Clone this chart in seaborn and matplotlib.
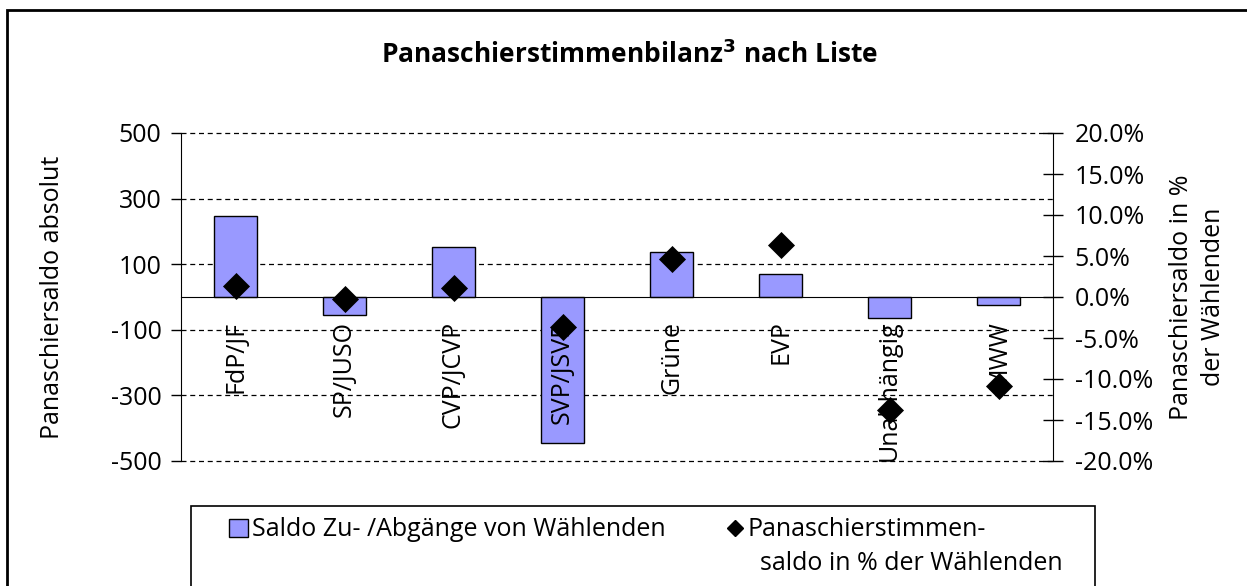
import matplotlib
matplotlib.use("Agg")
import matplotlib.pyplot as plt
import matplotlib.ticker as mticker
from matplotlib.patches import Rectangle
from matplotlib.lines import Line2D
import seaborn as sns

parties = ["FdP/JF", "SP/JUSO", "CVP/JCVP", "SVP/JSVP", "Grüne", "EVP", "Unabhängig", "MWW"]
saldo_abs = [248, -56, 151, -445, 136, 70, -64, -24]
saldo_pct = [1.3, -0.3, 1.05, -3.7, 4.6, 6.4, -13.8, -10.8]
left_ticks = [500, 300, 100, -100, -300, -500]
right_ticks = [20, 15, 10, 5, 0, -5, -10, -15, -20]

bar_color = "#9999FF"
FS = 18

sns.set_style("white")
plt.rcParams["font.family"] = ["Open Sans", "DejaVu Sans"]
plt.rcParams["text.color"] = "black"
plt.rcParams["axes.labelcolor"] = "black"
plt.rcParams["xtick.color"] = "black"
plt.rcParams["ytick.color"] = "black"

fig = plt.figure(figsize=(12.47, 5.86), dpi=100)
ax = fig.add_axes([181 / 1247, 1 - 461 / 586, 872 / 1247, 328 / 586])

sns.barplot(x=parties, y=saldo_abs, color=bar_color, edgecolor="black",
            linewidth=1, width=0.4, saturation=1, ax=ax, zorder=2)
ax.set_axisbelow(False)
ax.set_ylim(-500, 500)
ax.set_xlim(-0.5, len(parties) - 0.5)
ax.set_yticks(left_ticks)
ax.set_yticklabels([str(t) for t in left_ticks], fontsize=FS)
ax.set_ylabel("Panaschiersaldo absolut", fontsize=FS, labelpad=33)
ax.tick_params(axis="y", direction="out", length=7, width=1, color="black", pad=7)
for y in left_ticks:
    ax.axhline(y, color="black", lw=0.9, ls=(0, (4, 3)), zorder=1, clip_on=False)

ax.spines["top"].set_visible(False)
ax.spines["right"].set_visible(False)
ax.spines["left"].set_color("black")
ax.spines["bottom"].set_position(("data", 0))
ax.spines["bottom"].set_color("black")
ax.xaxis.set_minor_locator(mticker.FixedLocator([i + 0.5 for i in range(len(parties) - 1)]))
ax.tick_params(axis="x", which="minor", direction="out", length=6, width=1, color="black")
ax.tick_params(axis="x", which="major", length=0, pad=17, labelsize=FS)
plt.setp(ax.get_xticklabels(), rotation=90)
ax.set_xlabel("")

ax2 = ax.twinx()
sns.scatterplot(x=parties, y=saldo_pct, marker="D", s=190, color="black",
                edgecolor="black", linewidth=0, legend=False, ax=ax2, zorder=4)
ax2.set_ylim(-20, 20)
ax2.set_yticks(right_ticks)
ax2.yaxis.set_major_formatter(mticker.FuncFormatter(lambda v, p: f"{v:.1f}%"))
ax2.tick_params(axis="y", direction="inout", length=15, width=1, color="black",
                labelsize=FS, pad=8)
ax2.set_ylabel("Panaschiersaldo in %\nder Wählenden", fontsize=FS, labelpad=12,
               linespacing=1.35)
for s in ["top", "bottom", "left"]:
    ax2.spines[s].set_visible(False)
ax2.spines["right"].set_color("black")
ax2.grid(False)

fig.text(630 / 1247, 1 - 55 / 586, r"Panaschierstimmenbilanz$^{\mathbf{3}}$ nach Liste",
         ha="center", va="center", fontsize=19, fontweight="bold")

# outer frame and legend frame
fig.patches.append(Rectangle((7 / 1247, -0.1), 1.2, 1 - 10 / 586 + 0.1,
                             transform=fig.transFigure, fill=False,
                             edgecolor="black", lw=2))
fig.patches.append(Rectangle((191 / 1247, -0.1), (1095 - 191) / 1247, 0.1 + 1 - 506 / 586,
                             transform=fig.transFigure, fill=False,
                             edgecolor="black", lw=1.2))

handles = [
    Rectangle((0, 0), 1, 1, facecolor=bar_color, edgecolor="black", lw=1),
    Line2D([], [], marker="D", color="black", ls="none", markersize=8),
]
labels = ["Saldo Zu- /Abgänge von Wählenden", "Panaschierstimmen-"]
leg = fig.legend(handles, labels, loc="center left",
                 bbox_to_anchor=(229 / 1247, 1 - 530 / 586),
                 ncol=2, frameon=False, fontsize=FS, handlelength=0.75, handleheight=0.75,
                 handletextpad=0.15, columnspacing=2.4, borderaxespad=0, borderpad=0)
fig.text(760 / 1247, 1 - 564 / 586, "saldo in % der Wählenden",
         ha="left", va="center", fontsize=FS)

fig.savefig("out.png", dpi=100)
